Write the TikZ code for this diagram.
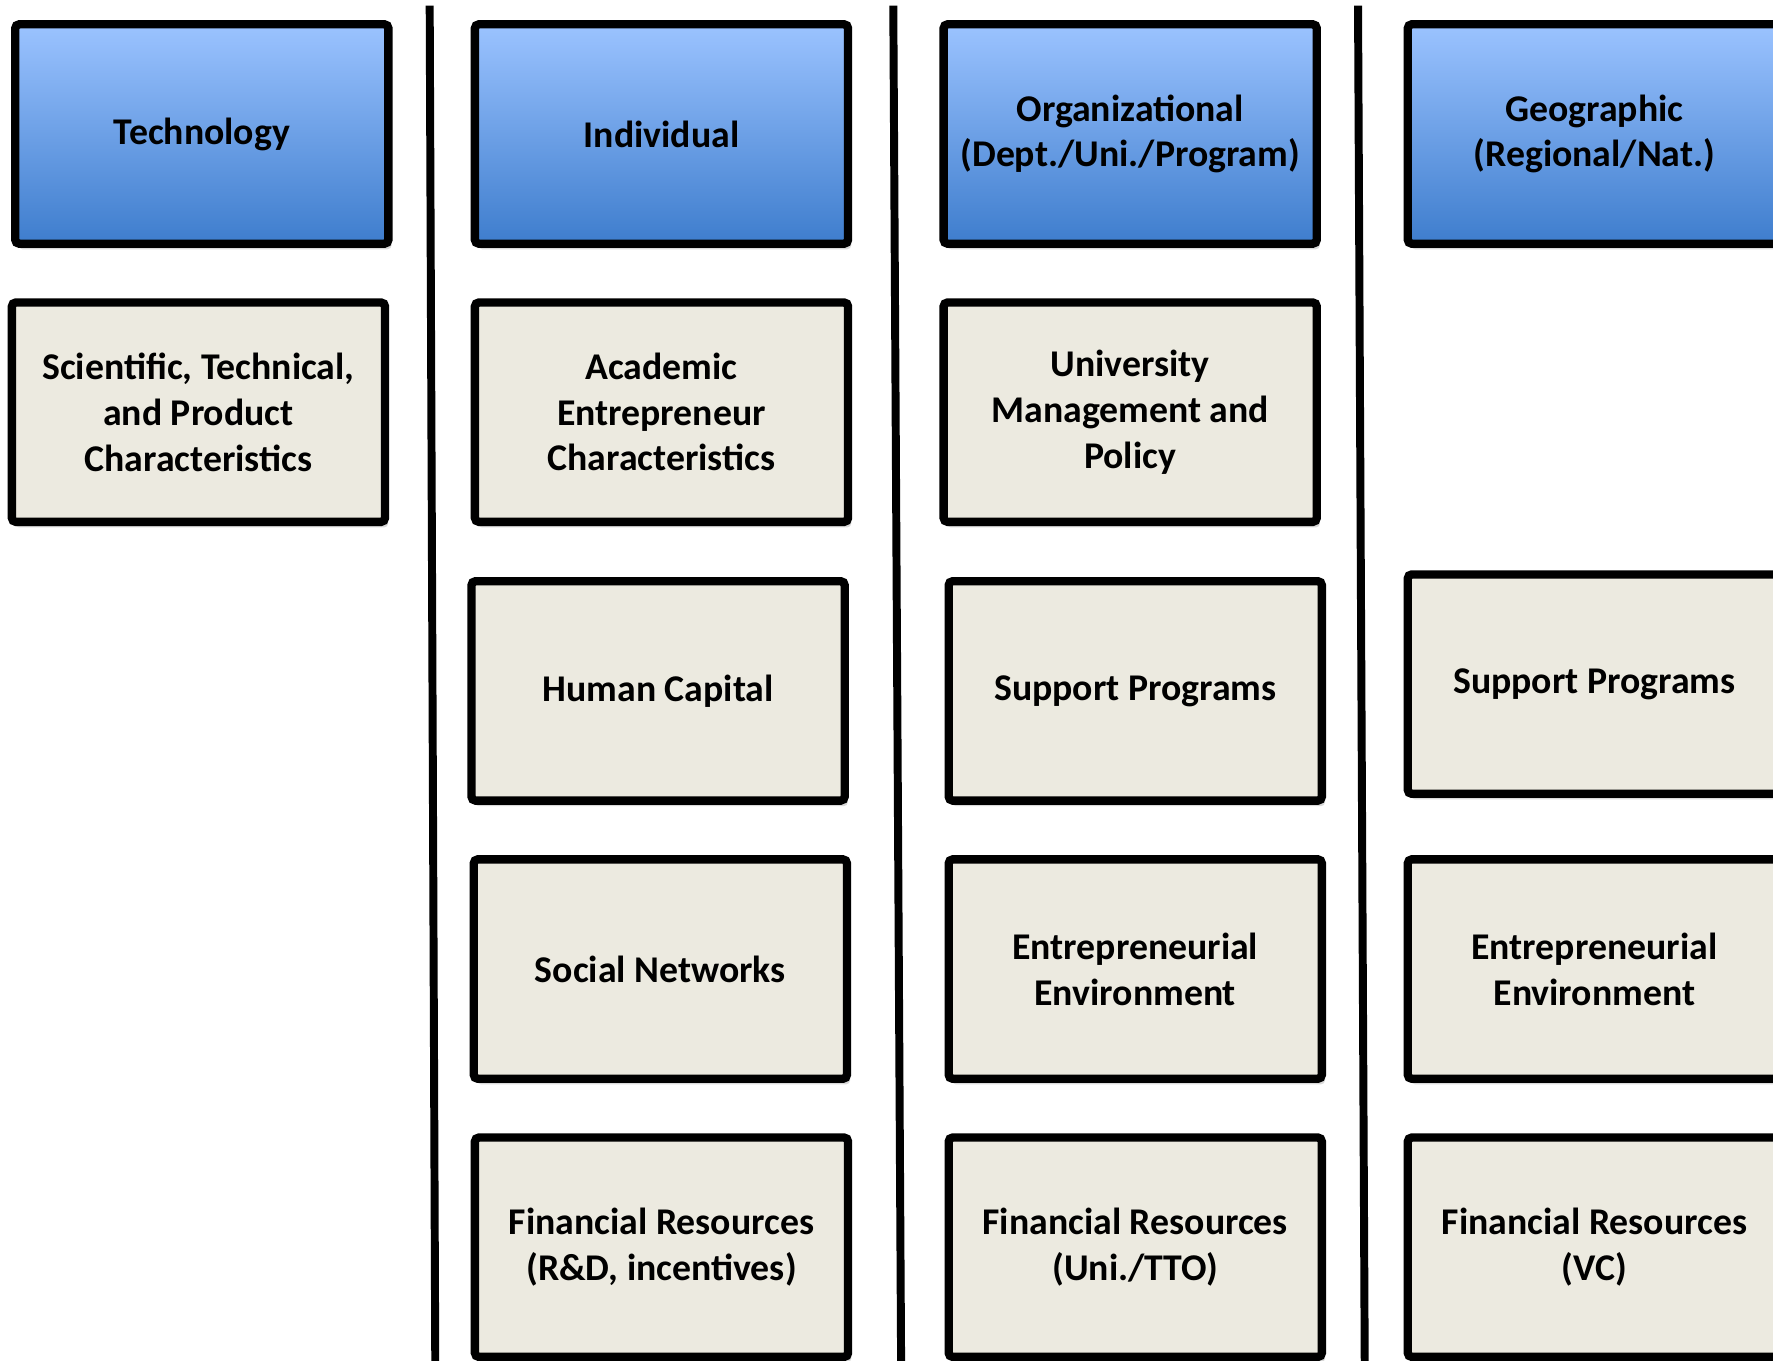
\documentclass[tikz,border=0pt]{standalone}
\usepackage{fontspec}
\setmainfont{Carlito}
\usetikzlibrary{shadows}
\definecolor{headtop}{RGB}{155,195,255}
\definecolor{headbot}{RGB}{62,125,205}
\definecolor{cellfill}{RGB}{236,234,224}
\tikzset{
  every node/.style={font=\bfseries\fontsize{9.5}{11.5}\selectfont, align=center},
  boxbase/.style={draw, line width=2.1pt, rounded corners=1pt,
    minimum width=3.30cm, minimum height=1.94cm,
    drop shadow={shadow xshift=0.8pt, shadow yshift=-1.4pt, opacity=0.3}},
  headbox/.style={boxbase, top color=headtop, bottom color=headbot},
  cellbox/.style={boxbase, fill=cellfill},
  sepline/.style={line width=2pt}
}

\begin{document}
\begin{tikzpicture}
  \useasboundingbox (0,0) rectangle (15.68,-12.03);
%% headers
  \node[headbox] (tech) at (1.785,-1.185) {Technology};
  \node[headbox] (indiv) at (5.85,-1.185) {Individual};
  \node[headbox] (org) at (9.995,-1.185) {Organizational\\(Dept./Uni./Program)};
  \node[headbox] (geo) at (14.10,-1.185) {Geographic\\(Regional/Nat.)};
%% technology column
  \node[cellbox] (sci) at (1.755,-3.645) {Scientific, Technical,\\and Product\\Characteristics};
%% individual column
  \node[cellbox] (acad) at (5.85,-3.645) {Academic\\Entrepreneur\\Characteristics};
  \node[cellbox] (humcap) at (5.82,-6.11) {Human Capital};
  \node[cellbox] (socnet) at (5.84,-8.57) {Social Networks};
  \node[cellbox] (finind) at (5.85,-11.03) {Financial Resources\\(R\&D, incentives)};
%% organizational column
  \node[cellbox] (univ) at (9.995,-3.645) {University\\Management and\\Policy};
  \node[cellbox] (suppuni) at (10.04,-6.11) {Support Programs};
  \node[cellbox] (envuni) at (10.04,-8.57) {Entrepreneurial\\Environment};
  \node[cellbox] (finuni) at (10.04,-11.03) {Financial Resources\\(Uni./TTO)};
%% geographic column
  \node[cellbox] (suppgeo) at (14.10,-6.05) {Support Programs};
  \node[cellbox] (envgeo) at (14.10,-8.57) {Entrepreneurial\\Environment};
  \node[cellbox] (fingeo) at (14.10,-11.03) {Financial Resources\\(VC)};
%% separators
  \coordinate (sepa top) at (3.80,-0.05);
  \coordinate (sepa bot) at (3.85,-12.2);
  \coordinate (sepb top) at (7.90,-0.05);
  \coordinate (sepb bot) at (7.97,-12.2);
  \coordinate (sepc top) at (12.01,-0.05);
  \coordinate (sepc bot) at (12.07,-12.2);
  \draw[sepline] (sepa top) -- (sepa bot);
  \draw[sepline] (sepb top) -- (sepb bot);
  \draw[sepline] (sepc top) -- (sepc bot);
\end{tikzpicture}
\end{document}
